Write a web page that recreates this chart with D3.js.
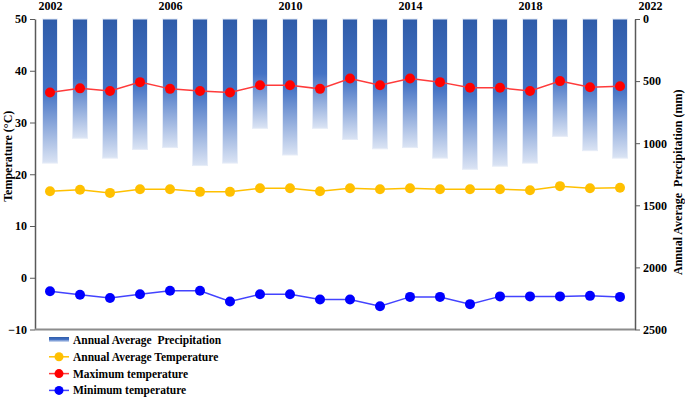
<!DOCTYPE html>
<html>
<head>
<meta charset="utf-8">
<script src="https://cdn.jsdelivr.net/npm/d3@7"></script>
<style>
  body { margin: 0; background: #fff; }
  svg text { font-family: "Liberation Serif", "Times New Roman", serif; font-weight: bold; fill: #000; }
  .axis .domain { stroke: #595959; }
  .axis line { stroke: #595959; }
</style>
</head>
<body>
<div id="chart"></div>
<script>
var width = 685;
var height = 399;

// data
var years = [2002, 2003, 2004, 2005, 2006, 2007, 2008, 2009, 2010, 2011,
             2012, 2013, 2014, 2015, 2016, 2017, 2018, 2019, 2020, 2021];
var precipitation = [1160, 960, 1120, 1050, 1035, 1180, 1160, 880, 1095, 880,
                     970, 1045, 1035, 1120, 1210, 1185, 1160, 945, 1060, 1120];
var avgTemp = [16.7, 17.0, 16.4, 17.1, 17.1, 16.6, 16.6, 17.3, 17.3, 16.7,
               17.3, 17.1, 17.3, 17.1, 17.1, 17.1, 16.9, 17.7, 17.3, 17.4];
var maxTemp = [35.8, 36.6, 36.1, 37.8, 36.5, 36.1, 35.8, 37.2, 37.2, 36.5,
               38.5, 37.2, 38.5, 37.8, 36.7, 36.7, 36.1, 38.0, 36.8, 37.0];
var minTemp = [-2.6, -3.3, -3.9, -3.2, -2.5, -2.5, -4.6, -3.2, -3.2, -4.2,
               -4.2, -5.5, -3.7, -3.7, -5.1, -3.6, -3.6, -3.6, -3.5, -3.7];
var yearTicks = [2002, 2006, 2010, 2014, 2018, 2022];
var tempTicks = [-10, 0, 10, 20, 30, 40, 50];
var precipTicks = [0, 500, 1000, 1500, 2000, 2500];
var legendNames = ["Annual Average  Precipitation", "Annual Average Temperature",
                   "Maximum temperature", "Minimum temperature"];

var plotLeft = 35, plotRight = 635, plotTop = 19, plotBottom = 329.5;

var xScale = d3.scaleLinear().domain([2002, 2022]).range([50, 650]);
var tScale = d3.scaleLinear().domain([-10, 50]).range([plotBottom, plotTop]);
var pScale = d3.scaleLinear().domain([0, 2500]).range([plotTop, plotBottom]);

var svg = d3.select("#chart").append("svg")
    .attr("width", width)
    .attr("height", height);

var grad = svg.append("defs").append("linearGradient")
    .attr("id", "barGrad")
    .attr("x1", 0).attr("y1", 0).attr("x2", 0).attr("y2", 1);
grad.append("stop").attr("offset", "0%").attr("stop-color", "#2f5ca9");
grad.append("stop").attr("offset", "50%").attr("stop-color", "#4472c4");
grad.append("stop").attr("offset", "100%").attr("stop-color", "#dbe4f4");

// precipitation bars hang from the top
svg.selectAll("rect.bar")
   .data(years)
   .enter().append("rect")
   .attr("class", "bar")
   .attr("x", function(d) { return xScale(d) - 7.5; })
   .attr("y", pScale(0))
   .attr("width", 15)
   .attr("height", function(d, i) { return pScale(precipitation[i]) - pScale(0); })
   .attr("fill", "url(#barGrad)")
   .attr("stroke", "#e6ecf7")
   .attr("stroke-width", 1);

// axes
svg.append("g")
   .attr("class", "axis")
   .attr("transform", "translate(" + plotLeft + ",0)")
   .call(d3.axisLeft(tScale).tickValues(tempTicks).tickSize(5).tickPadding(3).tickSizeOuter(0))
   .call(function(g) { g.selectAll("text").style("font-size", "12px"); g.select(".domain").attr("stroke-width", 1.5); });

svg.append("g")
   .attr("class", "axis")
   .attr("transform", "translate(" + plotRight + ",0)")
   .call(d3.axisRight(pScale).tickValues(precipTicks).tickFormat(d3.format("d")).tickSize(5).tickPadding(3).tickSizeOuter(0))
   .call(function(g) { g.selectAll("text").style("font-size", "12px"); g.select(".domain").attr("stroke", "#8c8c8c").attr("stroke-width", 1.5); });

svg.append("g")
   .attr("class", "axis")
   .attr("transform", "translate(0," + plotTop + ")")
   .call(d3.axisTop(xScale).tickValues(yearTicks).tickFormat(d3.format("d")).tickSize(0).tickPadding(9))
   .call(function(g) { g.select(".domain").remove(); g.selectAll("text").style("font-size", "12px"); });

svg.append("line")
   .attr("x1", plotLeft).attr("x2", plotRight)
   .attr("y1", plotBottom).attr("y2", plotBottom)
   .attr("stroke", "#8c8c8c")
   .attr("stroke-width", 2);

// axis titles
svg.append("text")
   .attr("transform", "translate(12," + ((plotTop + plotBottom) / 2 - 18) + ") rotate(-90)")
   .attr("text-anchor", "middle")
   .style("font-size", "12px")
   .text("Temperature (°C)");

svg.append("text")
   .attr("transform", "translate(682," + ((plotTop + plotBottom) / 2 + 8) + ") rotate(-90)")
   .attr("text-anchor", "middle")
   .style("font-size", "12px")
   .style("white-space", "pre")
   .text("Annual Average  Precipitation (mm)");

// temperature lines
var series = [
  { values: avgTemp, dot: "#ffc000", line: "#ffc000" },
  { values: maxTemp, dot: "#ff0000", line: "#ff3b3b" },
  { values: minTemp, dot: "#0000ff", line: "#4343ff" }
];

series.forEach(function(s) {
  var line = d3.line()
      .x(function(d, i) { return xScale(years[i]); })
      .y(function(d) { return tScale(d); });
  svg.append("path")
     .datum(s.values)
     .attr("fill", "none")
     .attr("stroke", s.line)
     .attr("stroke-width", 1.5)
     .attr("d", line);
  svg.selectAll(null)
     .data(s.values)
     .enter().append("circle")
     .attr("cx", function(d, i) { return xScale(years[i]); })
     .attr("cy", function(d) { return tScale(d); })
     .attr("r", 5)
     .attr("fill", s.dot);
});

// legend
var legend = svg.append("g").attr("transform", "translate(49,340)");
legend.append("rect")
   .attr("x", 0).attr("y", -3)
   .attr("width", 20).attr("height", 5)
   .attr("fill", "url(#barGrad)");

series.forEach(function(s, i) {
  var y = (i + 1) * 16.8;
  legend.append("line")
     .attr("x1", 0).attr("x2", 20)
     .attr("y1", y).attr("y2", y)
     .attr("stroke", s.line)
     .attr("stroke-width", 1.5);
  legend.append("circle")
     .attr("cx", 10).attr("cy", y).attr("r", 4.5)
     .attr("fill", s.dot);
});

legend.selectAll("text.leg")
   .data(legendNames)
   .enter().append("text")
   .attr("class", "leg")
   .attr("x", 24)
   .attr("y", function(d, i) { return i * 16.8 + 4; })
   .style("font-size", "11.5px")
   .style("white-space", "pre")
   .text(function(d) { return d; });
</script>
</body>
</html>
